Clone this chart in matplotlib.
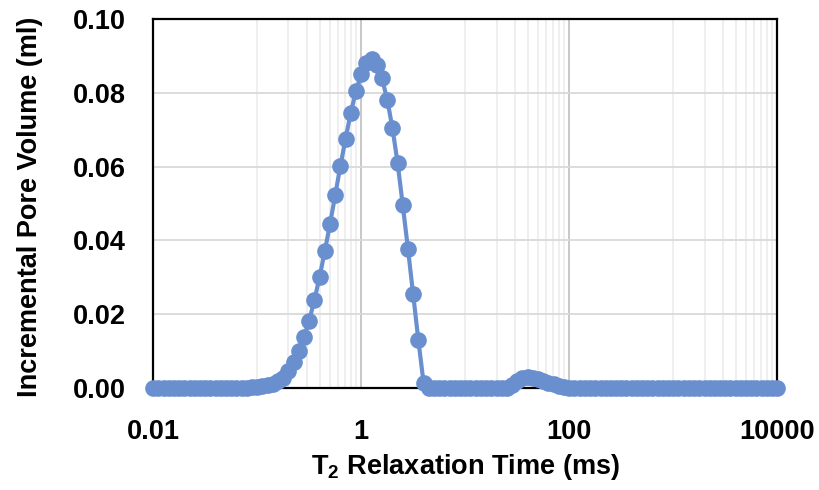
import matplotlib
matplotlib.use("Agg")
import matplotlib.pyplot as plt
import numpy as np

plt.rcParams['font.family'] = ['Liberation Sans', 'DejaVu Sans']
plt.rcParams['mathtext.fontset'] = 'custom'
plt.rcParams['mathtext.rm'] = 'Liberation Sans'
plt.rcParams['mathtext.bf'] = 'Liberation Sans:bold'

# T2 bins (ms), 20 per decade from 0.01 to 10000
t2 = [0.01, 0.0112, 0.0126, 0.0141, 0.0158, 0.0178, 0.02, 0.0224, 0.0251, 0.0282,
      0.0316, 0.0355, 0.0398, 0.0447, 0.0501, 0.0562, 0.0631, 0.0708, 0.0794, 0.0891,
      0.1, 0.112, 0.126, 0.141, 0.158, 0.178, 0.2, 0.224, 0.251, 0.282,
      0.316, 0.355, 0.398, 0.447, 0.501, 0.562, 0.631, 0.708, 0.794, 0.891,
      1.0, 1.12, 1.26, 1.41, 1.58, 1.78, 2.0, 2.24, 2.51, 2.82,
      3.16, 3.55, 3.98, 4.47, 5.01, 5.62, 6.31, 7.08, 7.94, 8.91,
      10.0, 11.2, 12.6, 14.1, 15.8, 17.8, 20.0, 22.4, 25.1, 28.2,
      31.6, 35.5, 39.8, 44.7, 50.1, 56.2, 63.1, 70.8, 79.4, 89.1,
      100.0, 112, 126, 141, 158, 178, 200, 224, 251, 282,
      316, 355, 398, 447, 501, 562, 631, 708, 794, 891,
      1000, 1120, 1260, 1410, 1580, 1780, 2000, 2240, 2510, 2820,
      3160, 3550, 3980, 4470, 5010, 5620, 6310, 7080, 7940, 8910,
      10000]

# incremental pore volume (ml)
volume = [0, 0, 0, 0, 0, 0, 0, 0, 0, 0,
          0, 0, 0, 0, 0, 0, 0, 0, 0.0001, 0.0002,
          0.0003, 0.0005, 0.0008, 0.0012, 0.0018, 0.0028, 0.0046, 0.0071, 0.0100, 0.0138,
          0.0183, 0.0238, 0.0301, 0.0371, 0.0444, 0.0522, 0.0602, 0.0676, 0.0746, 0.0805,
          0.0850, 0.0880, 0.0891, 0.0875, 0.0841, 0.0782, 0.0704, 0.0610, 0.0496, 0.0376,
          0.0254, 0.0129, 0.0014, 0, 0, 0, 0, 0, 0, 0,
          0, 0, 0, 0, 0, 0, 0, 0, 0, 0.0008,
          0.0020, 0.0026, 0.0029, 0.0028, 0.0025, 0.0020, 0.0015, 0.0010, 0.0005, 0.0002,
          0, 0, 0, 0, 0, 0, 0, 0, 0, 0,
          0, 0, 0, 0, 0, 0, 0, 0, 0, 0,
          0, 0, 0, 0, 0, 0, 0, 0, 0, 0,
          0, 0, 0, 0, 0, 0, 0, 0, 0, 0,
          0]

major_ticks = [0.01, 1, 100, 10000]
major_labels = ['0.01', '1', '100', '10000']
minor_ticks = [0.1, 0.2, 0.3, 0.4, 0.5, 0.6, 0.7, 0.8, 0.9,
               10, 20, 30, 40, 50, 60, 70, 80, 90,
               1000, 2000, 3000, 4000, 5000, 6000, 7000, 8000, 9000]
y_ticks = [0.0, 0.02, 0.04, 0.06, 0.08, 0.10]

fig = plt.figure(figsize=(8.19, 4.90), dpi=100)
ax = fig.add_axes([0.187, 0.208, 0.762, 0.753])

ax.plot(t2, volume, color='#6a8fcf', lw=3.0, marker='o', ms=12,
        markeredgewidth=0, zorder=3, clip_on=False)

ax.set_xscale('log')
ax.set_xlim(0.01, 10000)
ax.set_ylim(0, 0.10)
ax.set_xticks(major_ticks)
ax.set_xticklabels(major_labels)
ax.set_xticks(minor_ticks, minor=True)
ax.set_xticklabels([], minor=True)
ax.set_yticks(y_ticks)
ax.set_yticklabels(['%.2f' % v for v in y_ticks])

ax.grid(True, which='minor', axis='x', color='#eeeeee', lw=1.3, zorder=0)
ax.grid(True, which='major', axis='x', color='#c4c4c4', lw=1.3, zorder=0)
ax.grid(True, which='major', axis='y', color='#d9d9d9', lw=1.3, zorder=0)
ax.set_axisbelow(True)

ax.tick_params(which='both', length=0)
ax.tick_params(axis='y', pad=20, labelsize=19.5)
ax.tick_params(axis='x', pad=22, labelsize=19.5)
for lab in ax.get_xticklabels() + ax.get_yticklabels():
    lab.set_fontweight('bold')

for s in ax.spines.values():
    s.set_color('black')
    s.set_linewidth(1.6)

ax.set_xlabel(r'$\mathbf{T_2}$ Relaxation Time (ms)', fontsize=19.5, fontweight='bold', va='center')
ax.set_ylabel('Incremental Pore Volume (ml)', fontsize=19.5, fontweight='bold', va='center')
ax.xaxis.set_label_coords(0.5, -0.214)
ax.yaxis.set_label_coords(-0.197, 0.49)

fig.savefig('out.png', dpi=100)
